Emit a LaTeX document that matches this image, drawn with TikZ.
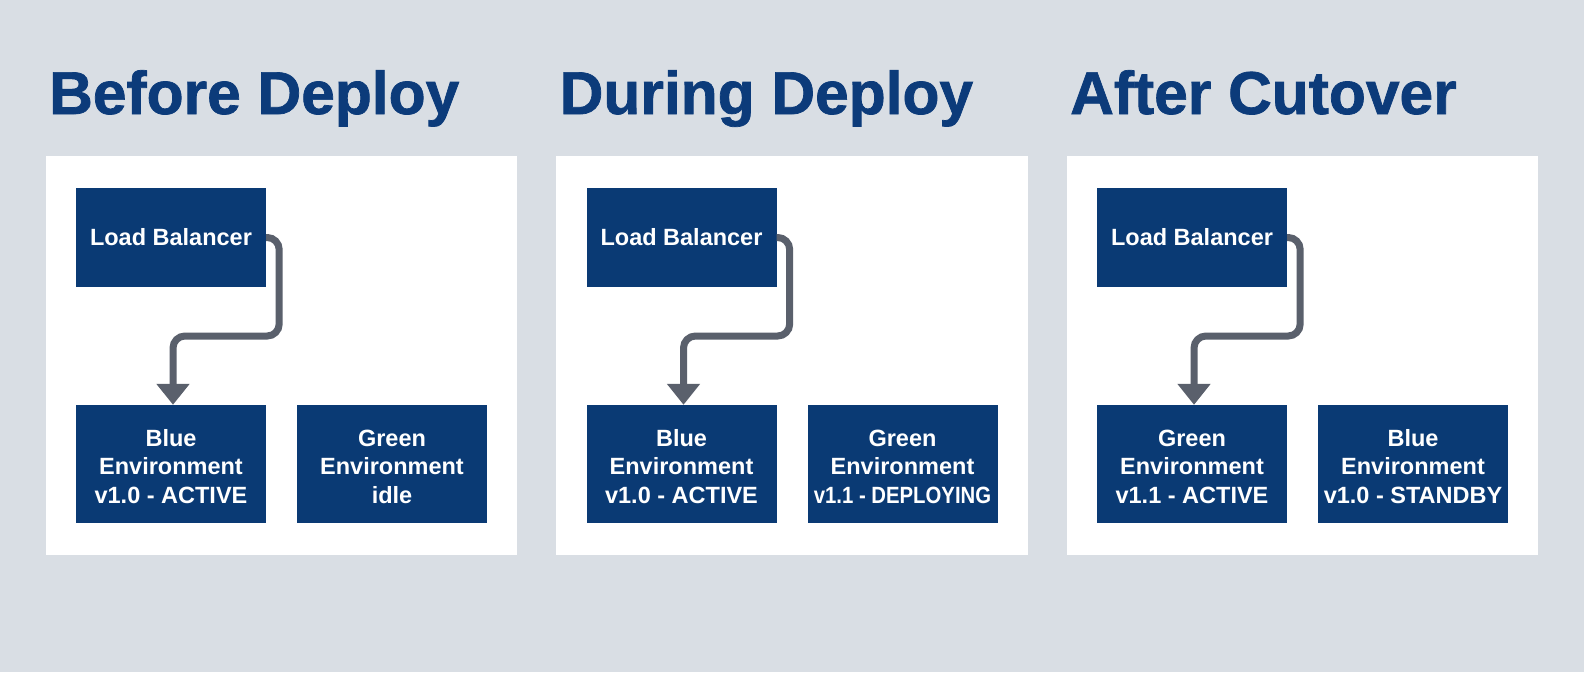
\documentclass[tikz,border=0pt]{standalone}
\usepackage{fontspec}
\setmainfont{Liberation Sans}
\newfontfamily\heavyfont{Liberation Sans}[BoldFeatures={FakeBold=1.2}]
\usetikzlibrary{arrows.meta}
\definecolor{bgc}{HTML}{D9DEE4}
\definecolor{boxc}{HTML}{0A3A74}
\definecolor{titlec}{HTML}{0C3B7A}
\definecolor{arrc}{HTML}{5A606C}
\tikzset{
  envbox/.style={fill=boxc, text=white, inner sep=0pt, minimum width=190pt, align=center,
    font=\bfseries\fontsize{23.5}{28.5}\selectfont},
  lbbox/.style={envbox, minimum height=99pt},
  stbox/.style={envbox, minimum height=118pt},
  ptitle/.style={anchor=base west, inner sep=0pt, text=titlec, font=\heavyfont\bfseries\fontsize{60.5}{66}\selectfont},
  panelbg/.style={fill=white},
  flow/.style={draw=arrc, line width=7pt, rounded corners=12pt, -{Triangle[width=32pt,length=21pt]}}
}
\begin{document}
\begin{tikzpicture}[x=1pt,y=-1pt]
\fill[bgc] (0,0) rectangle (1584,672);
\useasboundingbox (0,0) rectangle (1584,672);
% Panel 1
\begin{scope}
\node[ptitle] (t1) at (49,114) {Before Deploy};
\fill[panelbg] (45.5,156) rectangle (517,555);
\node[lbbox] (lb1) at (171,237.5) {Load Balancer};
\node[stbox] (a1) at (171,464) {\rule{0pt}{5pt}\\[-12pt]Blue\\Environment\\v1.0 - ACTIVE};
\node[stbox] (b1) at (392,464) {\rule{0pt}{5pt}\\[-12pt]Green\\Environment\\idle};
\draw[flow] (lb1.east) -- ++(13,0) |- ([xshift=2pt]a1.north |- 0,336) -- ([xshift=2pt]a1.north);
\end{scope}
% Panel 2
\begin{scope}[xshift=510.5pt]
\node[ptitle] (t2) at (49,114) {During Deploy};
\fill[panelbg] (45.5,156) rectangle (517,555);
\node[lbbox] (lb2) at (171,237.5) {Load Balancer};
\node[stbox] (a2) at (171,464) {\rule{0pt}{5pt}\\[-12pt]Blue\\Environment\\v1.0 - ACTIVE};
\node[stbox] (b2) at (392,464) {\rule{0pt}{5pt}\\[-12pt]Green\\Environment\\\scalebox{0.865}[1]{v1.1 - DEPLOYING}};
\draw[flow] (lb2.east) -- ++(13,0) |- ([xshift=2pt]a2.north |- 0,336) -- ([xshift=2pt]a2.north);
\end{scope}
% Panel 3
\begin{scope}[xshift=1021pt]
\node[ptitle] (t3) at (49,114) {After Cutover};
\fill[panelbg] (45.5,156) rectangle (517,555);
\node[lbbox] (lb3) at (171,237.5) {Load Balancer};
\node[stbox] (a3) at (171,464) {\rule{0pt}{5pt}\\[-12pt]Green\\Environment\\v1.1 - ACTIVE};
\node[stbox] (b3) at (392,464) {\rule{0pt}{5pt}\\[-12pt]Blue\\Environment\\v1.0 - STANDBY};
\draw[flow] (lb3.east) -- ++(13,0) |- ([xshift=2pt]a3.north |- 0,336) -- ([xshift=2pt]a3.north);
\end{scope}
\end{tikzpicture}
\end{document}
